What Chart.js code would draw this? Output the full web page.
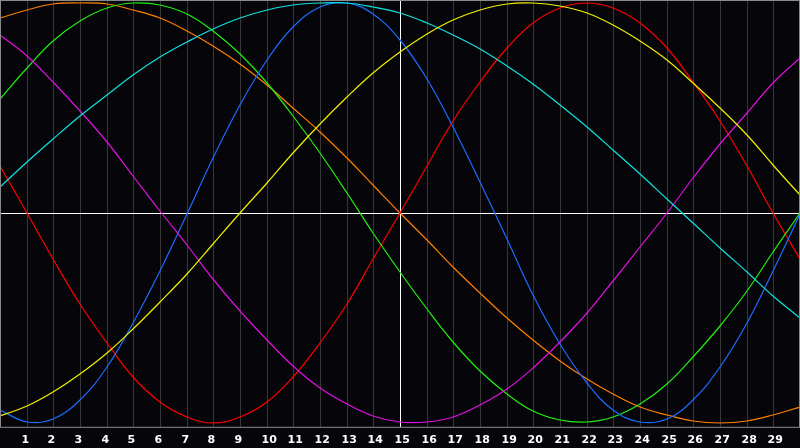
<!DOCTYPE html>
<html>
<head>
<meta charset="utf-8">
<script src="https://cdn.jsdelivr.net/npm/chart.js@4/dist/chart.umd.min.js"></script>
<style>
  html, body { margin: 0; padding: 0; background: #06060a; }
  #wrap { width: 800px; height: 448px; }
</style>
</head>
<body>
<div id="wrap"><canvas id="myChart" width="800" height="448"></canvas></div>
<script>
// x positions (0..30), tick labels 1..29
var xs = [0,1,2,3,4,5,6,7,8,9,10,11,12,13,14,15,16,17,18,19,20,21,22,23,24,25,26,27,28,29,30];
var tickLabels = ['1','2','3','4','5','6','7','8','9','10','11','12','13','14','15','16','17','18','19','20','21','22','23','24','25','26','27','28','29'];

var redVals = [0.223,0,-0.223,-0.434,-0.623,-0.782,-0.901,-0.975,-1,-0.975,-0.901,-0.782,-0.623,-0.434,-0.223,0,0.223,0.434,0.623,0.782,0.901,0.975,1,0.975,0.901,0.782,0.623,0.434,0.223,0,-0.223];
var orangeVals = [0.924,0.966,0.991,1,0.991,0.966,0.924,0.866,0.793,0.707,0.609,0.5,0.383,0.259,0.131,0,-0.131,-0.259,-0.383,-0.5,-0.609,-0.707,-0.793,-0.866,-0.924,-0.966,-0.991,-1,-0.991,-0.966,-0.924];
var greenVals = [0.541,0.690,0.815,0.910,0.972,0.999,0.990,0.945,0.866,0.756,0.618,0.458,0.282,0.095,-0.095,-0.282,-0.458,-0.618,-0.756,-0.866,-0.945,-0.990,-0.999,-0.972,-0.910,-0.815,-0.690,-0.541,-0.372,-0.189,0];
var blueVals = [-0.940,-0.997,-0.981,-0.892,-0.736,-0.527,-0.278,-0.008,0.262,0.513,0.725,0.884,0.977,0.998,0.945,0.822,0.637,0.406,0.144,-0.128,-0.391,-0.625,-0.812,-0.940,-0.997,-0.981,-0.892,-0.736,-0.527,-0.278,-0.008];
var cyanVals = [0.123,0.239,0.351,0.459,0.561,0.654,0.739,0.813,0.876,0.927,0.965,0.989,1.0,0.996,0.979,0.948,0.904,0.847,0.779,0.700,0.610,0.513,0.408,0.298,0.183,0.066,-0.052,-0.169,-0.284,-0.395,-0.501];
var yellowVals = [-0.968,-0.921,-0.854,-0.770,-0.669,-0.554,-0.427,-0.291,-0.149,-0.004,0.142,0.284,0.420,0.548,0.663,0.765,0.851,0.918,0.966,0.993,1.0,0.985,0.949,0.893,0.818,0.726,0.619,0.498,0.367,0.228,0.084];
var magentaVals = [0.844,0.744,0.623,0.485,0.334,0.174,0.009,-0.156,-0.317,-0.469,-0.609,-0.731,-0.834,-0.913,-0.968,-0.996,-0.997,-0.971,-0.917,-0.839,-0.738,-0.616,-0.478,-0.326,-0.166,-0.001,0.164,0.325,0.476,0.615,0.736];

function pts(vals) {
    var out = [];
    for (var i = 0; i < xs.length; i++) {
        out.push({ x: xs[i], y: vals[i] });
    }
    return out;
}

function line(vals, color) {
    return {
        data: pts(vals),
        borderColor: color,
        backgroundColor: color,
        borderWidth: 1.2,
        pointRadius: 0,
        pointHoverRadius: 0,
        tension: 0.4,
        capBezierPoints: false,
        fill: false
    };
}

var framePlugin = {
    id: 'frame',
    beforeDraw: function (chart) {
        var c = chart.ctx;
        c.save();
        c.fillStyle = '#06060a';
        c.fillRect(0, 0, chart.width, chart.height);
        c.restore();
    },
    afterDraw: function (chart) {
        var a = chart.chartArea;
        var c = chart.ctx;
        c.save();
        c.strokeStyle = '#8a8a8a';
        c.lineWidth = 1;
        c.strokeRect(a.left + 0.5, a.top + 0.5, a.right - a.left - 1, a.bottom - a.top);
        c.restore();
    }
};

var ctx = document.getElementById("myChart");
var myChart = new Chart(ctx, {
    type: 'line',
    data: {
        datasets: [
            line(yellowVals, '#f0f000'),
            line(cyanVals, '#10e0e0'),
            line(magentaVals, '#e010e0'),
            line(blueVals, '#1a6cff'),
            line(greenVals, '#20f010'),
            line(redVals, '#ff0000'),
            line(orangeVals, '#ff7f00')
        ]
    },
    options: {
        responsive: false,
        animation: false,
        layout: { autoPadding: false, padding: { left: 0, right: 0, top: 0, bottom: 1 } },
        plugins: {
            legend: { display: false },
            tooltip: { enabled: false }
        },
        scales: {
            x: {
                type: 'linear',
                min: 0,
                max: 30,
                alignToPixels: true,
                border: { display: false },
                grid: {
                    drawTicks: true,
                    tickLength: 7,
                    tickColor: 'rgba(0,0,0,0)',
                    color: function (c) {
                        var v = c.tick ? c.tick.value : -1;
                        if (v === 15) return '#ffffff';
                        if (v === 0 || v === 30) return 'rgba(0,0,0,0)';
                        return '#383838';
                    }
                },
                ticks: {
                    stepSize: 1,
                    autoSkip: false,
                    maxRotation: 0,
                    align: 'start',
                    labelOffset: -5.5,
                    padding: 0,
                    color: '#ffffff',
                    font: { family: 'DejaVu Sans', size: 11, weight: 'bold' },
                    callback: function (v) {
                        return (v >= 1 && v <= 29) ? tickLabels[v - 1] : '';
                    }
                }
            },
            y: {
                min: -1.02,
                max: 1.012,
                alignToPixels: true,
                border: { display: false },
                grid: {
                    drawTicks: false,
                    color: function (c) {
                        return (c.tick && c.tick.value === 0) ? '#ffffff' : 'rgba(0,0,0,0)';
                    }
                },
                ticks: { display: false, stepSize: 1, padding: 0 }
            }
        }
    },
    plugins: [framePlugin]
});
</script>
</body>
</html>
